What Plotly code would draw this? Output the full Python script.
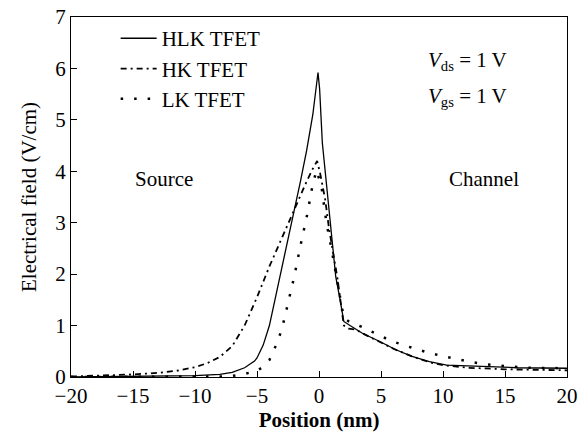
import plotly.graph_objects as go

# HLK TFET (solid)
hlk_x = [-20, -15, -12, -10, -8, -7, -6, -5.2, -5.0, -4.5, -4.0, -3.5, -3.0, -2.5, -2.0, -1.5, -1.0, -0.5, -0.08,
         0.05, 0.27, 0.81, 1.35, 1.7, 2.0, 2.5, 3.5, 4.9, 6.2, 7.5, 8.9, 10.3, 13.0, 16.0, 20]
hlk_y = [0.0, 0.01, 0.015, 0.025, 0.05, 0.09, 0.18, 0.31, 0.37, 0.62, 1.0, 1.55, 2.1, 2.65, 3.2, 3.8, 4.4, 5.1, 5.92,
         5.6, 4.55, 3.2, 1.95, 1.5, 1.08, 1.0, 0.85, 0.69, 0.53, 0.4, 0.3, 0.23, 0.2, 0.18, 0.17]

# HK TFET (dash-dot)
hk_x = [-20, -17, -15, -13, -11.5, -10, -9, -8, -7, -6, -5, -4, -3, -2, -1.5, -1.0, -0.5, -0.15,
        0.1, 0.5, 0.8, 1.2, 1.5, 2.0, 2.4, 3.0, 3.5, 5.0, 6.0, 7.5, 9.0, 10.0, 12.0, 15.0, 18.0, 20]
hk_y = [0.01, 0.03, 0.05, 0.08, 0.12, 0.19, 0.27, 0.39, 0.6, 1.0, 1.55, 2.15, 2.7, 3.25, 3.55, 3.8, 4.05, 4.2,
        3.95, 3.45, 2.9, 2.3, 1.9, 1.0, 0.94, 0.92, 0.85, 0.67, 0.55, 0.4, 0.28, 0.23, 0.18, 0.15, 0.14, 0.13]

# LK TFET (dotted)
lk_x = [-20, -12, -9, -8, -7, -6, -5, -4.5, -4.0, -3.5, -3.0, -2.5, -2.0, -1.5, -1.0, -0.5, -0.2,
        0.2, 0.6, 1.0, 1.5, 2.0, 2.4, 3.5, 4.6, 5.75, 6.8, 7.9, 9.0, 10.1, 11.2, 12.3, 13.4, 14.5, 15.6, 17.0, 20]
lk_y = [0.0, 0.0, 0.005, 0.01, 0.02, 0.06, 0.12, 0.2, 0.33, 0.6, 0.92, 1.45, 1.95, 2.55, 3.1, 3.75, 4.02,
        3.7, 3.0, 2.5, 1.85, 1.15, 1.08, 0.97, 0.84, 0.71, 0.62, 0.54, 0.46, 0.40, 0.34, 0.29, 0.25, 0.22, 0.2, 0.18, 0.17]

x_ticks = [-20, -15, -10, -5, 0, 5, 10, 15, 20]
y_ticks = [0, 1, 2, 3, 4, 5, 6, 7]

FONT = "Liberation Serif, Times New Roman, serif"

fig = go.Figure()
fig.add_trace(go.Scatter(x=hlk_x, y=hlk_y, mode="lines", name="HLK TFET",
                         line=dict(color="black", width=1.3)))
fig.add_trace(go.Scatter(x=hk_x, y=hk_y, mode="lines", name="HK TFET",
                         line=dict(color="black", width=1.8, dash="6px,4px,2px,4px")))
fig.add_trace(go.Scatter(x=lk_x, y=lk_y, mode="lines", name="LK TFET",
                         line=dict(color="black", width=2.5, dash="2.5px,11px")))

fig.add_annotation(x=-12.5, y=3.85, text="Source", showarrow=False,
                   font=dict(family=FONT, size=21, color="black"))
fig.add_annotation(x=13.3, y=3.85, text="Channel", showarrow=False,
                   font=dict(family=FONT, size=21, color="black"))
fig.add_annotation(x=8.6, y=6.15, text="<i>V</i><sub>ds</sub> = 1 V", showarrow=False, xanchor="left",
                   font=dict(family=FONT, size=21, color="black"))
fig.add_annotation(x=8.6, y=5.45, text="<i>V</i><sub>gs</sub> = 1 V", showarrow=False, xanchor="left",
                   font=dict(family=FONT, size=21, color="black"))

fig.update_layout(
    template="none",
    width=579, height=443,
    margin=dict(l=71, r=12, t=17, b=66),
    paper_bgcolor="white", plot_bgcolor="white",
    font=dict(family=FONT, size=21, color="black"),
    showlegend=True,
    legend=dict(x=0.09, y=0.997, xanchor="left", yanchor="top",
                bgcolor="rgba(0,0,0,0)", font=dict(family=FONT, size=21, color="black"),
                tracegroupgap=0, itemwidth=36),
)
fig.update_xaxes(range=[-20, 20], tickvals=x_ticks, ticks="inside", ticklen=6, tickcolor="black",
                 showline=True, linecolor="black", linewidth=1, mirror=True, showgrid=False, zeroline=False,
                 automargin=False, tickfont=dict(family=FONT, size=21),
                 title=dict(text="<b>Position (nm)</b>", font=dict(family=FONT, size=21), standoff=4))
fig.update_yaxes(range=[0, 7], tickvals=y_ticks, ticks="inside", ticklen=6, tickcolor="black",
                 showline=True, linecolor="black", linewidth=1, mirror=True, showgrid=False, zeroline=False,
                 automargin=False, tickfont=dict(family=FONT, size=21),
                 title=dict(text="Electrical field (V/cm)", font=dict(family=FONT, size=21), standoff=12))

fig.write_html("out.html", config={"displayModeBar": False},
               post_script="document.body.style.margin='0px';")
